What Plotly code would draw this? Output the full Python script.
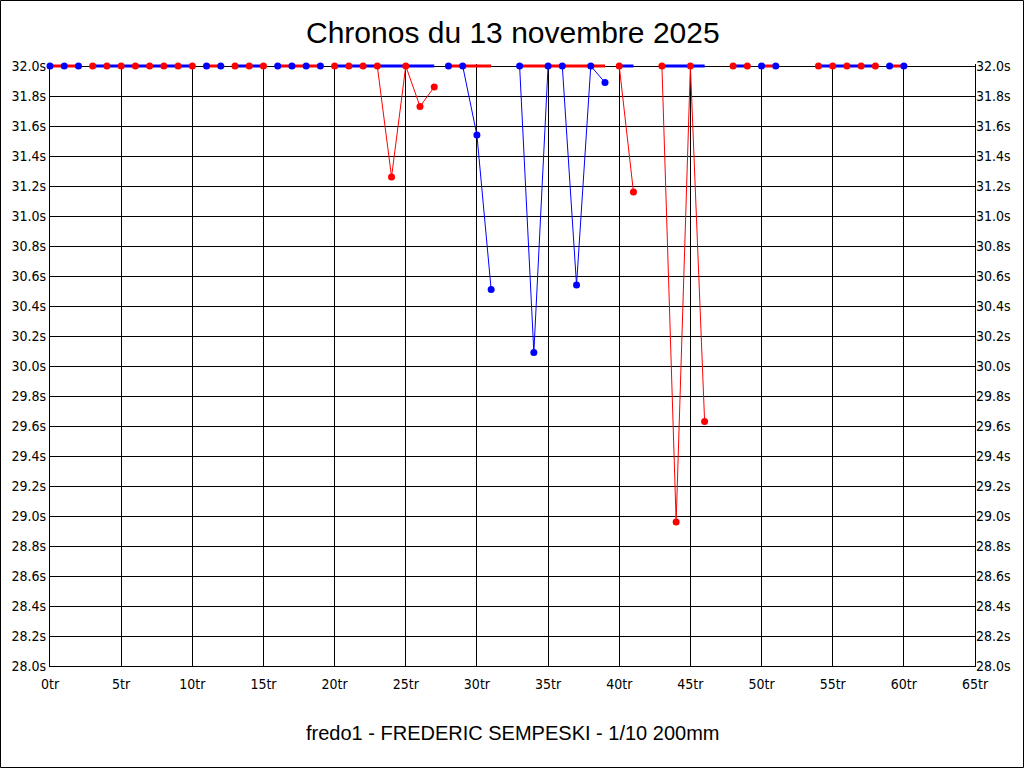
import plotly.graph_objects as go

# lap times (s) per lap, None = no lap recorded; 32.0 = capped at top of scale
LAPS = list(range(61))
TIMES = [
    32.0, 32.0, 32.0, 32.0, 32.0, 32.0, 32.0, 32.0, 32.0, 32.0,
    32.0, 32.0, 32.0, 32.0, 32.0, 32.0, 32.0, 32.0, 32.0, 32.0,
    32.0, 32.0, 32.0, 32.0, 31.26, 32.0, 31.73, 31.86, 32.0, 32.0,
    31.54, 30.51, None, 32.0, 30.09, 32.0, 32.0, 30.54, 32.0, 31.89,
    32.0, 31.16, None, 32.0, 28.96, 32.0, 29.63, None, 32.0, 32.0,
    32.0, 32.0, None, None, 32.0, 32.0, 32.0, 32.0, 32.0, 32.0,
    32.0,
]

# consecutive runs of laps and which series each run belongs to
RUN_FIRST = [0, 3, 11, 13, 16, 20, 28, 33, 40, 43, 48, 50, 54, 59]
RUN_LAST = [2, 10, 12, 15, 19, 27, 31, 39, 41, 46, 49, 51, 58, 60]
RUN_SERIES = ["A", "B", "A", "B", "A", "B", "A", "A", "B", "B", "B", "A", "B", "A"]

Y_TICKS = [round(28.0 + 0.2 * i, 1) for i in range(21)]
Y_LABELS = [f"{v:.1f}s" for v in Y_TICKS]
X_TICKS = list(range(0, 66, 5))
X_LABELS = [f"{v}tr" for v in X_TICKS]

TITLE = "Chronos du 13 novembre 2025"
PILOT = "fredo1 - FREDERIC SEMPESKI - 1/10 200mm"

Y_MIN, Y_MAX = 28.0, 32.0
BLUE = "#0000ff"
RED = "#ff0000"
MARK = {"A": BLUE, "B": RED}
BAND = {"A": RED, "B": BLUE}

W, H = 1024, 768
# plot area is 2px taller than the 28-32 scale so the thick band at 32.0 is not clipped
HEADROOM = 2
ML, MR, MT, MB = 50, 49, 66 - HEADROOM, 102
PW, PH = W - ML - MR, H - MT - MB
Y_TOP = Y_MAX + HEADROOM * (Y_MAX - Y_MIN) / (PH - HEADROOM)
BOTTOM_PX = MT + PH

TICK_FONT = dict(family="Liberation Sans Narrow, DejaVu Sans Condensed, Roboto, sans-serif",
                 size=14, color="black")


def runs_of(series):
    return [(a, b) for a, b, s in zip(RUN_FIRST, RUN_LAST, RUN_SERIES) if s == series]


def lap_points(series):
    xs, ys = [], []
    for first, last in runs_of(series):
        for lap in range(first, last + 1):
            xs.append(LAPS[lap])
            ys.append(min(TIMES[lap], Y_MAX))
        xs.append(None)
        ys.append(None)
    return xs, ys


fig = go.Figure()

# thin lap time lines
for series in ("A", "B"):
    lx, ly = lap_points(series)
    fig.add_trace(go.Scatter(x=lx, y=ly, mode="lines", line=dict(color=MARK[series], width=1),
                             cliponaxis=False, hoverinfo="skip", showlegend=False))

# thick band at the top of the scale spanning each run
for series in ("A", "B"):
    bx, by = [], []
    for first, last in runs_of(series):
        bx += [LAPS[first], LAPS[last], None]
        by += [Y_MAX, Y_MAX, None]
    fig.add_trace(go.Scatter(x=bx, y=by, mode="lines", line=dict(color=BAND[series], width=3),
                             cliponaxis=False, hoverinfo="skip", showlegend=False))

# lap points
for series in ("A", "B"):
    lx, ly = lap_points(series)
    fig.add_trace(go.Scatter(x=lx, y=ly, mode="markers", marker=dict(color=MARK[series], size=7),
                             cliponaxis=False, showlegend=False, name=series))

# invisible trace so the right-hand axis is drawn
fig.add_trace(go.Scatter(x=[0], y=[Y_MIN], yaxis="y2", mode="markers", marker=dict(opacity=0),
                         hoverinfo="skip", showlegend=False))

fig.update_layout(
    width=W, height=H,
    margin=dict(l=ML, r=MR, t=MT, b=MB, pad=0),
    paper_bgcolor="white", plot_bgcolor="white",
    xaxis=dict(range=[0, 65], tickvals=X_TICKS, ticktext=X_LABELS, tickfont=TICK_FONT,
               showgrid=True, gridcolor="black", gridwidth=1, zeroline=False,
               showline=True, linecolor="black", linewidth=1, mirror=False, ticks="",
               ticklabelstandoff=5, layer="below traces"),
    yaxis=dict(range=[Y_MIN, Y_TOP], tickvals=Y_TICKS, ticktext=Y_LABELS, tickfont=TICK_FONT,
               showgrid=True, gridcolor="black", gridwidth=1, zeroline=False,
               showline=True, linecolor="black", linewidth=1, mirror=True, ticks="",
               layer="below traces"),
    yaxis2=dict(range=[Y_MIN, Y_TOP], tickvals=Y_TICKS, ticktext=Y_LABELS, tickfont=TICK_FONT,
                overlaying="y", side="right", showgrid=False, zeroline=False, ticks="",
                layer="below traces"),
    annotations=[
        dict(text=TITLE, xref="paper", yref="paper", x=0.5, y=(BOTTOM_PX - 33) / PH,
             xanchor="center", yanchor="middle", showarrow=False,
             font=dict(family="Liberation Sans, Arial, sans-serif", size=30, color="black")),
        dict(text=PILOT, xref="paper", yref="paper", x=0.5, y=-(733 - BOTTOM_PX) / PH,
             xanchor="center", yanchor="middle", showarrow=False,
             font=dict(family="Liberation Sans, Arial, sans-serif", size=20, color="black")),
    ],
    shapes=[
        dict(type="rect", xref="paper", yref="paper",
             x0=(0.5 - ML) / PW, x1=(W - 0.5 - ML) / PW,
             y0=(BOTTOM_PX - (H - 0.5)) / PH, y1=(BOTTOM_PX - 0.5) / PH,
             line=dict(color="black", width=1), layer="below"),
    ],
)

fig.write_html("out.html", config={"displayModeBar": False},
               post_script="document.body.style.margin='0';")
